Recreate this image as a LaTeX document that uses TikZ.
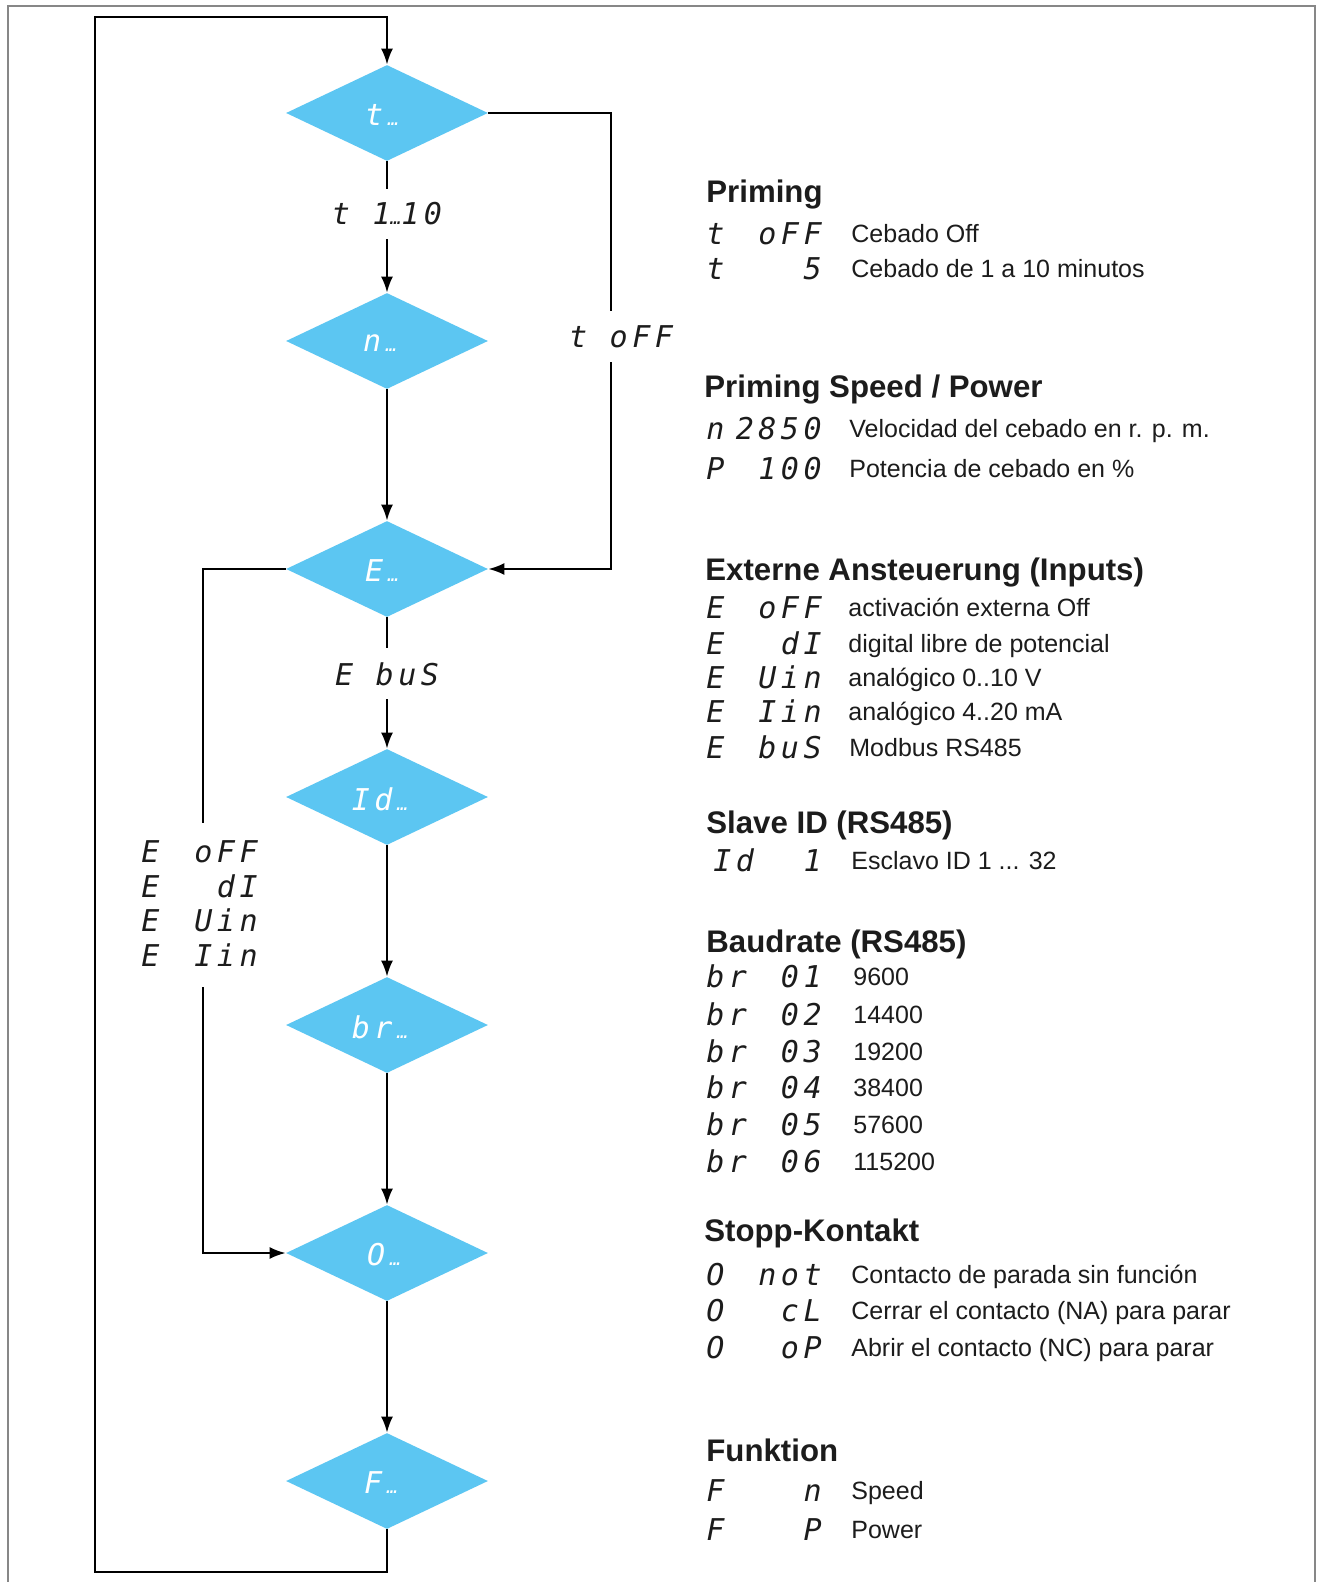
\documentclass[tikz,border=0pt]{standalone}
\usepackage{fontspec}
\setmainfont{Liberation Sans}
\newfontfamily\segfont[LetterSpace=15]{DejaVu Sans Mono}
\usetikzlibrary{shapes.geometric,arrows.meta}
\definecolor{diablue}{RGB}{92,198,242}
\definecolor{txt}{RGB}{28,28,28}
\definecolor{framegray}{RGB}{135,135,135}
\newcommand\sdots{{\fontsize{9pt}{10pt}\selectfont …}}
\newcommand\crow[6]{%
  \node[segp] (#1p) at (706,#2+11) {#3};
  \node[segv] (#1v) at (822,#2+11) {#4};
  \node[desc] (#1d) at (#6,#2+9) {#5};}
\begin{document}
\begin{tikzpicture}[x=0.5pt,y=-0.5pt,
  flow/.style={line width=1pt,draw=black},
  arr/.style={flow,-{Latex[length=8pt,width=6pt]}},
  dia/.style={diamond,fill=diablue,draw=none,minimum width=101pt,minimum height=48pt,inner sep=0pt},
  diatxt/.style={text=white,inner sep=0pt,font=\segfont\itshape\fontsize{15pt}{17pt}\selectfont},
  lab/.style={fill=white,text=txt,inner ysep=7pt,inner xsep=2pt,font=\segfont\itshape\fontsize{15pt}{17pt}\selectfont},
  head/.style={anchor=base west,inner sep=0pt,text=txt,font=\bfseries\fontsize{15.6pt}{18pt}\selectfont},
  desc/.style={anchor=base west,inner sep=0pt,text=txt,font=\fontsize{12.5pt}{15pt}\selectfont},
  segp/.style={anchor=base west,inner sep=0pt,text=txt,font=\segfont\itshape\fontsize{15pt}{17pt}\selectfont},
  segv/.style={anchor=base east,inner sep=0pt,text=txt,font=\segfont\itshape\fontsize{15pt}{17pt}\selectfont},
]
\useasboundingbox (0,0) rectangle (1321,1582);
\fill[white] (0,0) rectangle (1321,1582);
% frame
\draw[framegray,line width=1pt] (8,1582) -- (8,6) -- (1315,6) -- (1315,1582);

% diamonds
\node[dia] (t)  at (387,113)  {};
\node[dia] (n)  at (387,341)  {};
\node[dia] (E)  at (387,569)  {};
\node[dia] (id) at (387,797)  {};
\node[dia] (br) at (387,1025) {};
\node[dia] (O)  at (387,1253) {};
\node[dia] (F)  at (387,1481) {};

\node[diatxt] (tt)  at (382,115)  {t\,\sdots};
\node[diatxt] (nt)  at (380,343)  {n\,\sdots};
\node[diatxt] (Et)  at (382,571)  {E\,\sdots};
\node[diatxt] (idt) at (380,799)  {Id\,\sdots};
\node[diatxt] (brt) at (380,1027) {br\,\sdots};
\node[diatxt] (Ot)  at (384,1255) {O\,\sdots};
\node[diatxt] (Ft)  at (381,1483) {F\,\sdots};

% main flow
\draw[arr] (t.south) -- node[lab,pos=0.4] (l1) {t 1\sdots10} (n.north);
\draw[arr] (n.south) -- (E.north);
\draw[arr] (E.south) -- node[lab,pos=0.43] (l2) {E buS} (id.north);
\draw[arr] (id.south) -- (br.north);
\draw[arr] (br.south) -- (O.north);
\draw[arr] (O.south) -- (F.north);

% bypass t oFF
\coordinate (tr) at (611,113);
\coordinate (er) at (611,569);
\draw[arr] (t.east) -- (tr) -- node[lab,pos=0.49,xshift=5pt] (l3) {t oFF} (er) -- (E.east);

% loop back
\coordinate (lbl) at (95,1572);
\coordinate (ltl) at (95,17);
\draw[arr] (F.south) |- (lbl) -- (ltl) -| (t.north);

% E left branch
\coordinate (el) at (203,569);
\coordinate (ol) at (203,1253);
\draw[arr] (E.west) -- (el) -- (ol) -- (O.west);
\node[fill=white,minimum width=60pt,minimum height=82pt,inner sep=0pt] (eblk) at (200,905) {};
\node[segp] (b1p) at (141,862) {E};  \node[segv] (b1v) at (258,862) {oFF};
\node[segp] (b2p) at (141,897) {E};  \node[segv] (b2v) at (258,897) {dI};
\node[segp] (b3p) at (141,931) {E};  \node[segv] (b3v) at (258,931) {Uin};
\node[segp] (b4p) at (141,966) {E};  \node[segv] (b4v) at (258,966) {Iin};

% right column
\node[head] (h1) at (706,203) {Priming};
\crow{r11}{234}{t}{oFF}{Cebado Off}{851}
\crow{r12}{269}{t}{5}{Cebado de 1 a 10 minutos}{851}

\node[head] (h2) at (704,398) {Priming Speed / Power};
\crow{r21}{429}{n}{2850}{Velocidad del cebado en r. p. m.}{849}
\crow{r22}{469}{P}{100}{Potencia de cebado en \%}{849}

\node[head] (h3) at (705,580) {Externe Ansteuerung (Inputs)};
\crow{r31}{607}{E}{oFF}{activación externa Off}{848}
\crow{r32}{643}{E}{dI}{digital libre de potencial}{848}
\crow{r33}{677}{E}{Uin}{analógico 0..10 V}{848}
\crow{r34}{711}{E}{Iin}{analógico 4..20 mA}{848}
\crow{r35}{747}{E}{buS}{Modbus RS485}{849}

\node[head] (h4) at (706,833) {Slave ID (RS485)};
\node[segp] (r41p) at (713,871) {Id};
\node[segv] (r41v) at (822,871) {1};
\node[desc] (r41d) at (851,869) {Esclavo ID 1 ... 32};

\node[head] (h5) at (706,952) {Baudrate (RS485)};
\crow{r51}{976}{br}{01}{9600}{853}
\crow{r52}{1014}{br}{02}{14400}{853}
\crow{r53}{1051}{br}{03}{19200}{853}
\crow{r54}{1087}{br}{04}{38400}{853}
\crow{r55}{1124}{br}{05}{57600}{853}
\crow{r56}{1161}{br}{06}{115200}{853}

\node[head] (h6) at (704,1241) {Stopp-Kontakt};
\crow{r61}{1274}{O}{not}{Contacto de parada sin función}{851}
\crow{r62}{1310}{O}{cL}{Cerrar el contacto (NA) para parar}{851}
\crow{r63}{1347}{O}{oP}{Abrir el contacto (NC) para parar}{851}

\node[head] (h7) at (706,1461) {Funktion};
\crow{r71}{1490}{F}{n}{Speed}{851}
\crow{r72}{1529}{F}{P}{Power}{851}
\end{tikzpicture}
\end{document}
